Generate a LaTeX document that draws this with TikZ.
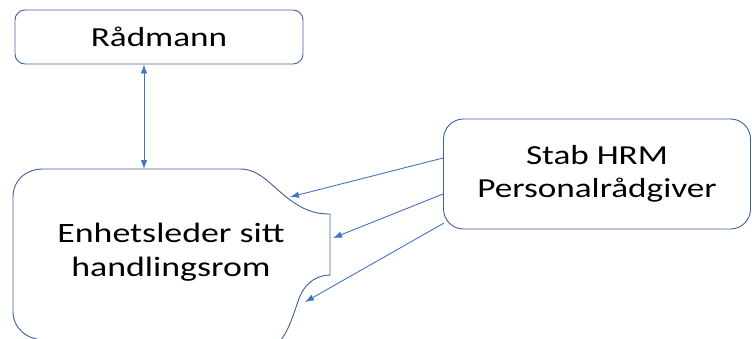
\documentclass[tikz,border=0pt]{standalone}
\usepackage{fontspec}
\setmainfont{Carlito}[FakeStretch=1.28]
\usetikzlibrary{arrows.meta}

\definecolor{boxline}{RGB}{60,95,160}
\definecolor{arrowblue}{RGB}{68,114,196}

\tikzset{
  roundbox/.style={draw=boxline,line width=0.9pt,rounded corners=10pt,
    align=center,inner sep=0pt,
    font=\fontsize{27.5}{33.5}\selectfont},
  link/.style={arrowblue,line width=0.9pt,-{Latex[length=9pt,width=6.5pt]}},
}

\begin{document}
\begin{tikzpicture}[x=1pt,y=-1pt]
    \useasboundingbox (0,0) rectangle (752,338);
    \clip (0,0) rectangle (752,338);

    \node[roundbox,minimum width=288pt,minimum height=54pt] (rad) at (159,37) {Rådmann};
    \node[roundbox,rounded corners=20pt,minimum width=307pt,minimum height=110pt] (stab) at (597,174) {Stab HRM\\Personalrådgiver};

    % enhetsleder shape
    \draw[boxline,line width=0.9pt] (13,312) -- (13,197)
        .. controls (13,180) and (26,169) .. (43,169) -- (240,169)
        .. controls (258,169) and (268,182) .. (285,196)
        .. controls (300,208) and (312,214) .. (330,214) -- (330,275)
        .. controls (318,275) and (306,282) .. (300,296)
        .. controls (294,312) and (290,328) .. (281,340) -- (45,340)
        .. controls (27,340) and (13,328) .. (13,312);
    \node[align=center,font=\fontsize{28}{34}\selectfont] (ehl) at (171,252) {Enhetsleder sitt\\handlingsrom};

    \coordinate (eTop) at (144,169);
    \coordinate (e1) at (290,197);
    \coordinate (e2) at (333,238);
    \coordinate (e3) at (305,302);

    \draw[link,{Latex[length=9pt,width=6.5pt]}-{Latex[length=9pt,width=6.5pt]}] (rad.south -| eTop) -- (eTop);
    \draw[link] ([yshift=16pt]stab.west) -- (e1);
    \draw[link] ([yshift=-20pt]stab.west) -- (e2);
    \draw[link] ([xshift=1pt,yshift=-49pt]stab.west) -- (e3);
\end{tikzpicture}
\end{document}
